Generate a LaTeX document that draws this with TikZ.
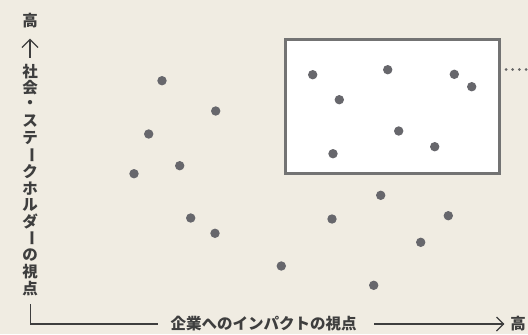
\documentclass[tikz,border=0pt]{standalone}
\usepackage{fontspec}
\newfontfamily\jp{Noto Sans CJK JP}
\definecolor{bg}{HTML}{F0ECE2}
\definecolor{ink}{HTML}{3E3E3E}
\definecolor{dotc}{HTML}{67676C}
\definecolor{frame}{HTML}{737373}
\definecolor{dotline}{HTML}{666666}
\tikzset{
  pt/.style={circle,fill=dotc,inner sep=0pt,minimum size=9.4bp},
  lbl/.style={inner sep=0pt,text=ink,font=\jp\bfseries\fontsize{15.5bp}{16bp}\selectfont},
  axis/.style={draw=ink,line width=1.3bp,line join=miter}
}
\begin{document}
\begin{tikzpicture}[x=1bp,y=-1bp]
\fill[bg] (0,0) rectangle (528,334);
\useasboundingbox (0,0) rectangle (528,334);
% highlighted box
\node[draw=frame,line width=3bp,fill=white,minimum width=214.5bp,minimum height=133.5bp,inner sep=0pt] (box) at (392.25,106.25) {};
\coordinate (dotend) at (530,69);
\draw[dotline,line width=3bp,dash pattern=on 0.01bp off 6.7bp,line cap=round] (box.east |- dotend) ++(5,0) -- (dotend);
% points inside box
\foreach \n/\x/\y in {a1/312.7/74.7,a2/387.7/69.7,a3/454.3/74.3,a4/471.7/86.7,a5/339.3/99.7,a6/398.7/131,a7/434.7/146.7,a8/333/153.7}
  \node[pt] (\n) at (\x,\y) {};
% points outside
\foreach \n/\x/\y in {b1/162/80.7,b2/215.7/111,b3/148.7/134,b4/179.7/165.7,b5/134/173.7,b6/190.7/218,b7/215/233.3,b8/380.7/195.3,b9/332/219,b10/448.3/215.7,b11/420.7/242.3,b12/281.3/266,b13/373.7/285.3}
  \node[pt] (\n) at (\x,\y) {};
% vertical axis label
\node[lbl] (ytop) at (30,20.5) {高};
\coordinate (yarrS) at (30,57.5);
\coordinate (yarrE) at (30,39.5);
\draw[axis] (yarrS) -- (yarrE);
\draw[axis] (yarrE) ++(-8,8) -- (yarrE) -- ++(8,8);
\foreach \c/\r [count=\i from 0] in {社/0,会/0,・/0,ス/0,テ/0,ー/-90,ク/0,ホ/0,ル/0,ダ/0,ー/-90,の/0,視/0,点/0}
  \node[lbl,rotate=\r] (v\i) at (30,71.35+16.7*\i) {\c};
% L axis
\coordinate (ys) at (30.7,304);
\coordinate (corner) at (30.7,324);
\coordinate (xs) at (158,324);
\draw[axis] (ys) -- (corner) -- (xs);
\node[lbl] (xlab) at (263.5,323.5) {企業へのインパクトの視点};
\coordinate (xa) at (374,324);
\coordinate (xe) at (503.5,324);
\draw[axis] (xa) -- (xe);
\draw[axis] (xe) ++(-7,-7) -- (xe) -- ++(-7,7);
\node[lbl] (xtop) at (518,323.5) {高};
\end{tikzpicture}
\end{document}
